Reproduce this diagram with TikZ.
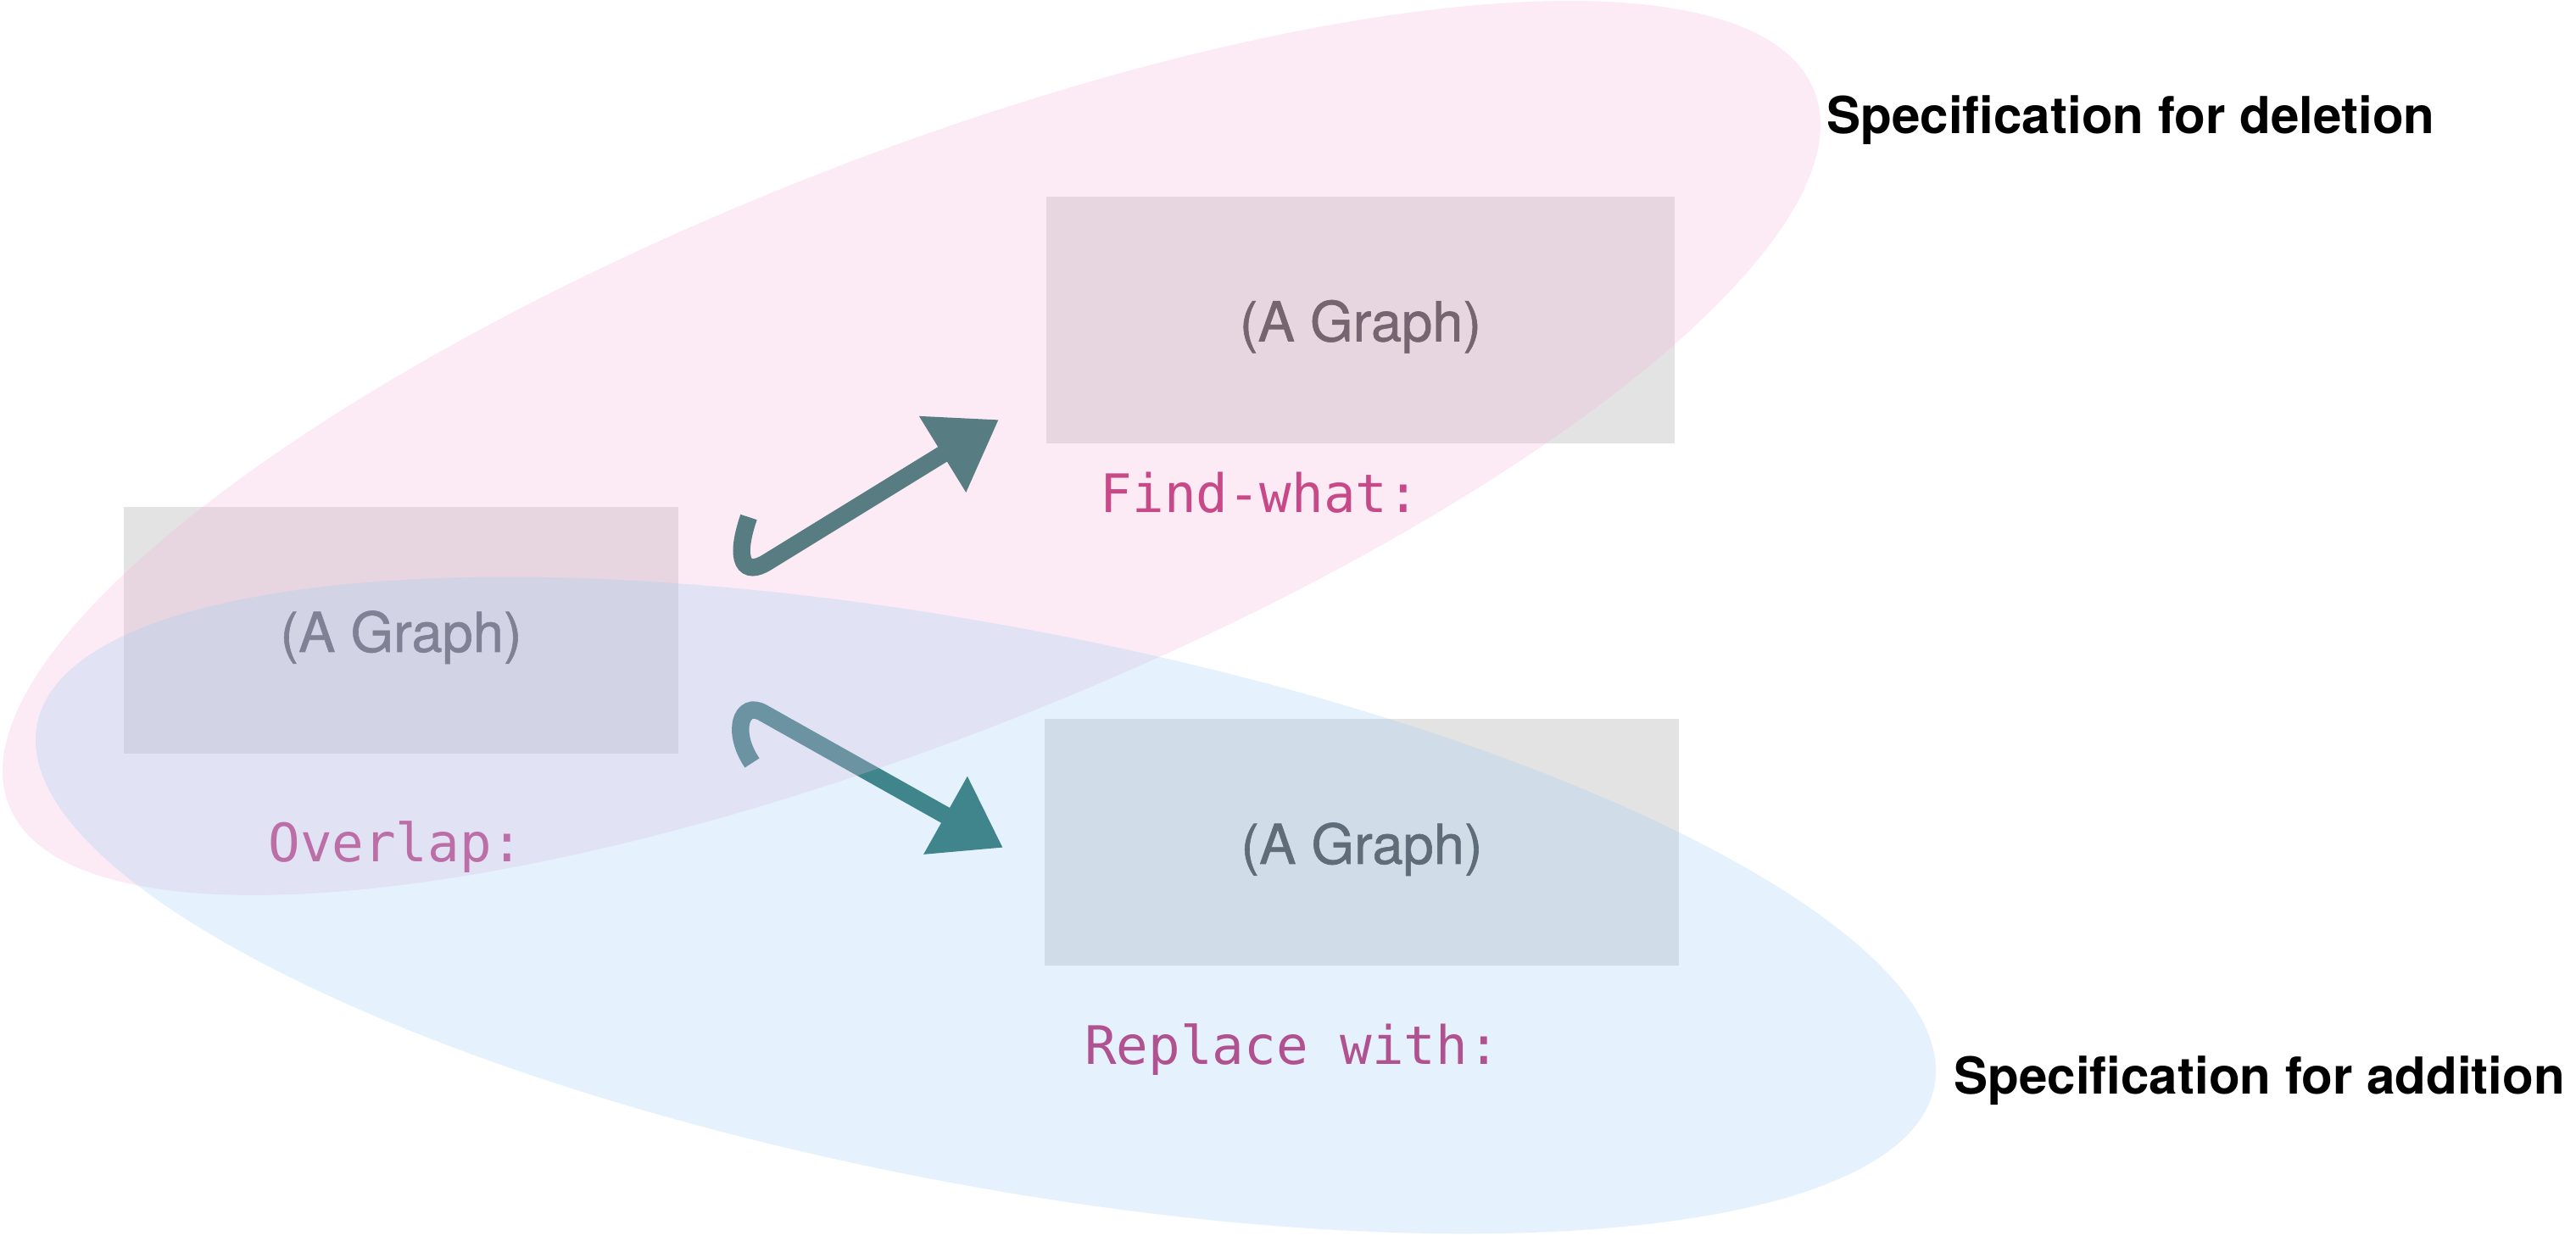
\documentclass[tikz,border=0pt]{standalone}
\usepackage{fontspec}
\setmainfont{TeX Gyre Heros}
\newfontfamily\codefont{DejaVu Sans Mono}
\newfontfamily\graphfont[FakeBold=0.9]{TeX Gyre Heros}
\usetikzlibrary{arrows.meta, positioning}
\definecolor{boxgray}{RGB}{227,227,227}
\definecolor{graphtext}{RGB}{70,70,72}
\definecolor{codepink}{RGB}{183,33,104}
\definecolor{chalkteal}{RGB}{27,105,97}
\definecolor{delpink}{RGB}{244,180,219}
\definecolor{addblue}{RGB}{160,207,248}
\tikzset{
  graphbox/.style={rectangle, fill=boxgray, inner sep=0pt,
    minimum height=2.91cm, text=graphtext,
    text height=0.64cm, text depth=0.14cm,
    font=\graphfont\fontsize{18.5}{21}\selectfont},
  codelabel/.style={anchor=base, text=codepink,
    font=\codefont\fontsize{17.8}{20}\selectfont},
  speclabel/.style={anchor=base west,
    font=\bfseries\fontsize{17.1}{20}\selectfont},
  chalkarrow/.style={-{Triangle[length=0.78cm, width=1.0cm]},
    line width=5.8pt, color=chalkteal},
  region/.style={fill opacity=0.28}
}
\begin{document}
\begin{tikzpicture}
  \useasboundingbox (0,0) rectangle (30.38,14.58);

  % Graphs
  \node[graphbox, minimum width=6.54cm] (overlap) at (4.73,7.14) {(A Graph)};
  \node[graphbox, minimum width=7.41cm] (findwhat) at (16.045,10.805) {(A Graph)};
  \node[graphbox, minimum width=7.48cm] (replace) at (16.06,4.64) {(A Graph)};

  % Labels under the graphs
  \node[codelabel] (overlaplbl) at (4.67,4.41) {Overlap:};
  \node[codelabel] (findlbl) at (14.86,8.53) {Find-what:};
  \node[codelabel] (replacelbl) at (15.24,2.02) {Replace with:};

  % Hooked arrows
  \coordinate (hookA) at (8.83,8.48);
  \coordinate (bendA) at (9.05,7.95);
  \coordinate (tipA) at (11.78,9.63);
  \coordinate (hookB) at (8.87,5.58);
  \coordinate (bendB) at (9.0,6.17);
  \coordinate (tipB) at (11.83,4.58);
  \draw[chalkarrow] (hookA) .. controls (8.65,7.95) and (8.78,7.78) .. (bendA) -- (tipA);
  \draw[chalkarrow] (hookB) .. controls (8.62,5.95) and (8.74,6.32) .. (bendB) -- (tipB);

  % Specification regions
  \fill[region, fill=delpink, rotate around={21.6:(10.75,9.295)}]
    (10.75,9.295) ellipse (11.45 and 3.41);
  \fill[region, fill=addblue, rotate around={-10.8:(11.625,3.90)}]
    (11.625,3.90) ellipse (11.39 and 3.29);

  \node[speclabel] (deletion) at (21.42,13.00) {Specification for deletion};
  \node[speclabel] (addition) at (22.92,1.67) {Specification for addition};
\end{tikzpicture}
\end{document}
